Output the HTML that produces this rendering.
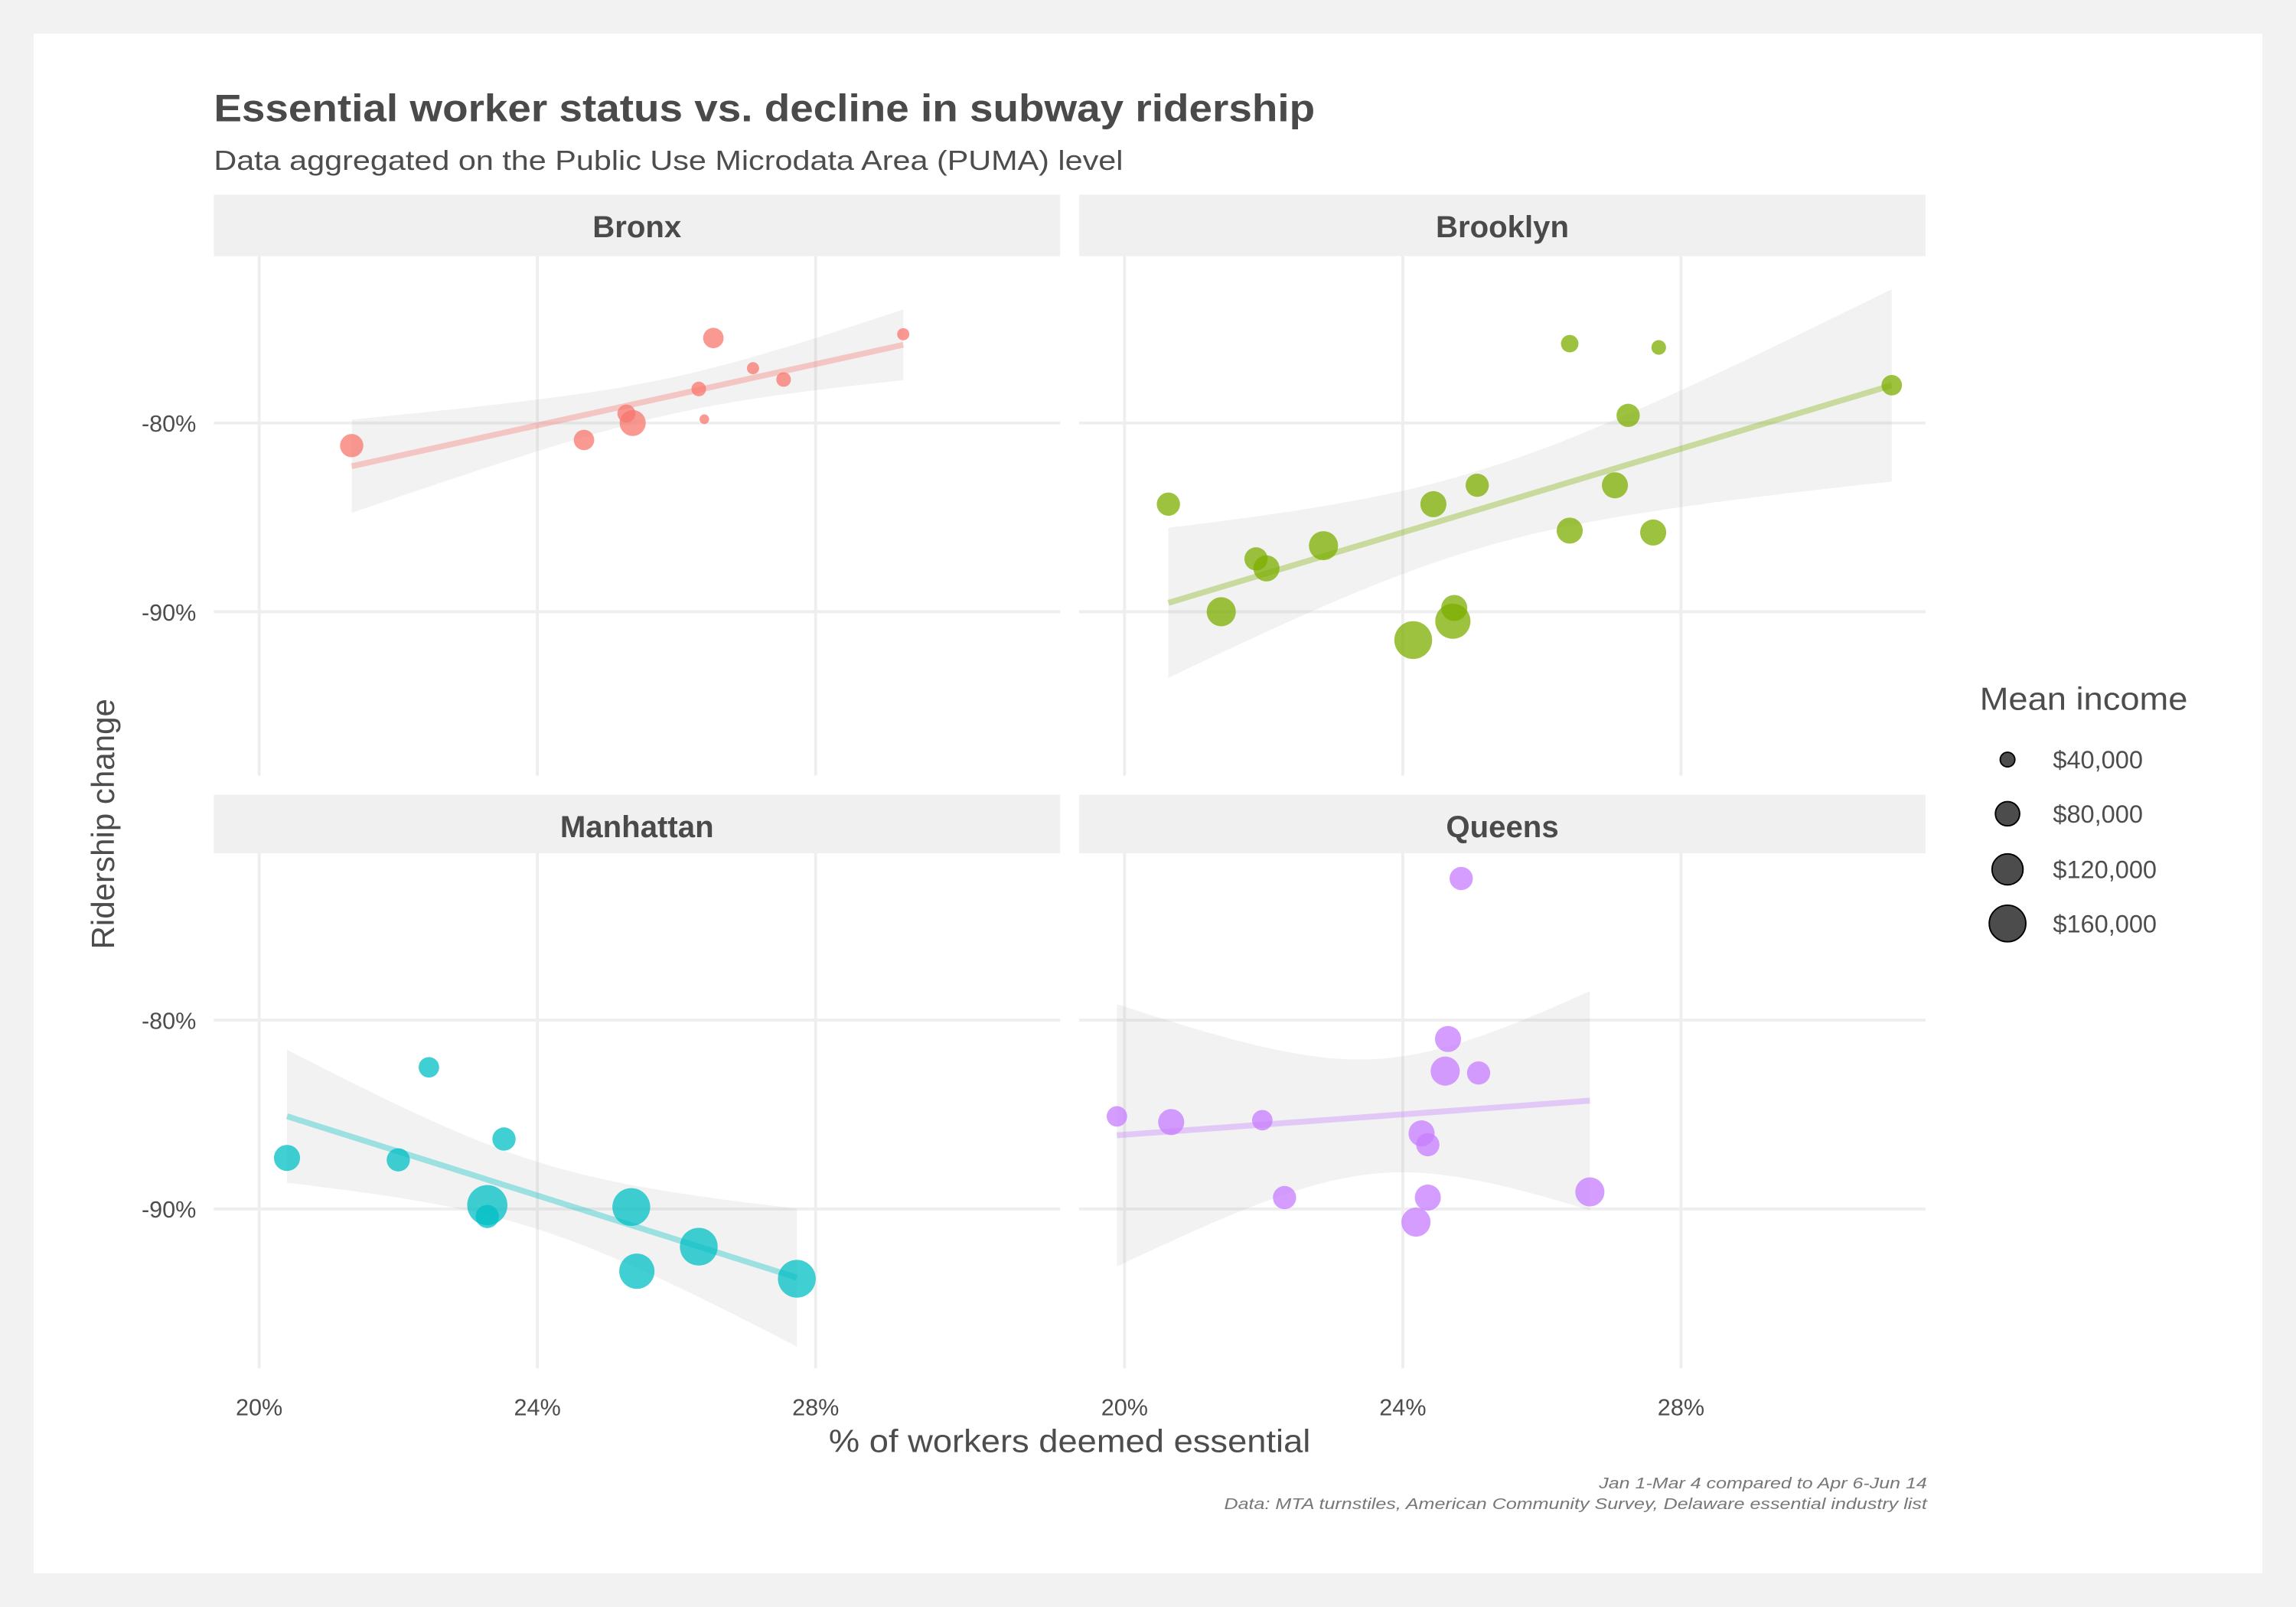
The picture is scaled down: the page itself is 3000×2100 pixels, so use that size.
<!DOCTYPE html>
<html><head><meta charset="utf-8"><style>
html,body{margin:0;padding:0;background:#f2f2f2;}
svg{display:block;font-family:"Liberation Sans",Arial,sans-serif;}
</style></head><body>
<svg id="chart" width="3000" height="2100" viewBox="0 0 1568 1098" preserveAspectRatio="none" xmlns="http://www.w3.org/2000/svg">
<rect x="0" y="0" width="1568" height="1098" fill="#f2f2f2"/>
<rect x="23" y="23" width="1522" height="1052" fill="#ffffff"/>
<text x="146" y="83" font-size="26" font-weight="bold" fill="#4a4a4a" textLength="752" lengthAdjust="spacingAndGlyphs">Essential worker status vs. decline in subway ridership</text>
<text x="146" y="116" font-size="19" fill="#4d4d4d" textLength="621" lengthAdjust="spacingAndGlyphs">Data aggregated on the Public Use Microdata Area (PUMA) level</text>
<g id="panels"></g>
<text x="566" y="992" font-size="22" fill="#4d4d4d" textLength="329" lengthAdjust="spacingAndGlyphs">% of workers deemed essential</text>
<text transform="translate(78,563) rotate(-90)" font-size="22" fill="#4d4d4d" text-anchor="middle">Ridership change</text>
<text x="1352" y="485" font-size="22" fill="#4d4d4d" textLength="142" lengthAdjust="spacingAndGlyphs">Mean income</text>
<g id="legend"></g>
<text x="1092" y="1017" font-size="10.5" font-style="italic" fill="#777" textLength="224" lengthAdjust="spacingAndGlyphs">Jan 1-Mar 4 compared to Apr 6-Jun 14</text>
<text x="836" y="1031" font-size="10.5" font-style="italic" fill="#777" textLength="480" lengthAdjust="spacingAndGlyphs">Data: MTA turnstiles, American Community Survey, Delaware essential industry list</text>
</svg>
<script>
const boroughs = ["Bronx","Brooklyn","Manhattan","Queens"];
const colors = ["#F8766D","#7CAE00","#00BFC4","#C77CFF"];
const xTicks = [20,24,28];
const xTickLabels = ["20%","24%","28%"];
const yTicks = [-80,-90];
const yTickLabels = ["-80%","-90%"];
const legendIncomes = [40,80,120,160];
const legendLabels = ["$40,000","$80,000","$120,000","$160,000"];

const bronxX = [21.33,24.67,25.28,25.37,26.32,26.40,26.53,27.10,27.54,29.26];
const bronxY = [-81.2,-80.9,-79.5,-80.0,-78.2,-79.8,-75.5,-77.1,-77.7,-75.3];
const bronxInc = [75,62,52,90,40,27,62,33,40,33];

const brooklynX = [20.63,21.89,22.04,21.39,22.86,24.15,24.44,24.74,24.72,25.07,26.40,26.40,27.05,27.24,27.60,27.68,31.03];
const brooklynY = [-84.3,-87.2,-87.7,-90.0,-86.5,-91.5,-84.3,-89.8,-90.5,-83.3,-75.8,-85.7,-83.3,-79.6,-85.8,-76.0,-78.0];
const brooklynInc = [75,75,90,108,108,170,90,90,150,75,50,90,90,75,90,40,62];

const manhattanX = [20.40,22.00,22.44,23.52,23.28,23.28,25.35,25.43,26.32,27.73];
const manhattanY = [-87.3,-87.4,-82.5,-86.3,-89.8,-90.4,-89.9,-93.3,-92.0,-93.7];
const manhattanInc = [90,75,62,75,190,75,170,150,170,170];

const queensX = [19.89,20.67,21.98,22.30,24.27,24.36,24.61,24.65,25.09,24.36,24.19,24.84,26.69];
const queensY = [-85.1,-85.4,-85.3,-89.4,-86.0,-86.6,-82.7,-81.0,-82.8,-89.4,-90.7,-72.5,-89.1];
const queensInc = [62,90,62,75,90,75,108,90,75,90,108,75,108];

const seriesX = [bronxX,brooklynX,manhattanX,queensX];
const seriesY = [bronxY,brooklynY,manhattanY,queensY];
const seriesInc = [bronxInc,brooklynInc,manhattanInc,queensInc];

const NS="http://www.w3.org/2000/svg";
function mk(tag,attrs,parent){const e=document.createElementNS(NS,tag);for(const k in attrs)e.setAttribute(k,attrs[k]);parent.appendChild(e);return e;}
function rad(inc){return Math.sqrt(Math.max(2,-18.7+1.09*inc));}
function tq(df){const t={8:2.306,9:2.262,10:2.228,11:2.201,12:2.179,13:2.16,14:2.145,15:2.131,16:2.12,17:2.11,18:2.101};return t[df]||2.1;}

const layout=[{x0:146,x20:177,top:175,strip:133,y80:289},{x0:737,x20:768,top:175,strip:133,y80:289},
{x0:146,x20:177,top:583,strip:543,y80:697},{x0:737,x20:768,top:583,strip:543,y80:697}];
const PW=578, PBOT=[530,530,935,935];
const panels=document.getElementById('panels');

boroughs.forEach((b,i)=>{
  const L=layout[i];
  const xs=v=>L.x20+(v-20)*47.5;
  const ys=v=>L.y80+(-80-v)*12.9;
  const g=mk('g',{},panels);
  
  
  const st=mk('rect',{x:L.x0,y:L.strip,width:PW,height:L.top-L.strip,fill:'#f0f0f0'},g);
  
  
  const stt=mk('text',{x:L.x0+PW/2,y:L.strip+29,'font-size':21,'font-weight':'bold',fill:'#4a4a4a','text-anchor':'middle'},g);
  stt.textContent=b;
  
  
  const bot=PBOT[i];
  xTicks.forEach((t,j)=>{
    const gl=mk('line',{x1:xs(t),x2:xs(t),y1:L.top,y2:bot,stroke:'#eeeeee','stroke-width':2},g);
    
    
    if(i>=2){const tl=mk('text',{x:xs(t),y:967,'font-size':16,fill:'#4d4d4d','text-anchor':'middle'},g);tl.textContent=xTickLabels[j];
      
      }
  });
  yTicks.forEach((t,j)=>{
    const gl=mk('line',{x1:L.x0,x2:L.x0+PW,y1:ys(t),y2:ys(t),stroke:'#eeeeee','stroke-width':2},g);
    
    
    if(i%2===0){const tl=mk('text',{x:134,y:ys(t)+6,'font-size':16,fill:'#4d4d4d','text-anchor':'end'},g);tl.textContent=yTickLabels[j];
      
      }
  });
  const X=seriesX[i],Y=seriesY[i],n=X.length;
  const mx=X.reduce((a,c)=>a+c,0)/n,my=Y.reduce((a,c)=>a+c,0)/n;
  let sxx=0,sxy=0;X.forEach((x,k)=>{sxx+=(x-mx)**2;sxy+=(x-mx)*(Y[k]-my);});
  const bb=sxy/sxx,aa=my-bb*mx;
  let sse=0;X.forEach((x,k)=>{sse+=(Y[k]-aa-bb*x)**2;});
  const s=Math.sqrt(sse/(n-2)),tv=tq(n-2);
  const xmin=Math.min(...X),xmax=Math.max(...X);
  const up=[],lo=[];
  for(let k=0;k<=60;k++){const x=xmin+(xmax-xmin)*k/60;const f=aa+bb*x;const se=s*Math.sqrt(1/n+(x-mx)**2/sxx);
    up.push(xs(x).toFixed(1)+','+ys(f+tv*se).toFixed(1));lo.unshift(xs(x).toFixed(1)+','+ys(f-tv*se).toFixed(1));}
  const rib=mk('polygon',{points:up.concat(lo).join(' '),fill:'#999','fill-opacity':0.13},g);
  
  
  const ln=mk('line',{x1:xs(xmin),y1:ys(aa+bb*xmin),x2:xs(xmax),y2:ys(aa+bb*xmax),stroke:colors[i],'stroke-opacity':0.35,'stroke-width':4},g);
  
  
  X.forEach((x,k)=>{
    const c=mk('circle',{cx:xs(x),cy:ys(Y[k]),r:rad(seriesInc[i][k]),fill:colors[i],'fill-opacity':0.75},g);
    
    
  });
});

const leg=document.getElementById('legend');
const ly=[519,556,594,631];
legendIncomes.forEach((inc,j)=>{
  const c=mk('circle',{cx:1371,cy:ly[j],r:rad(inc),fill:'#000','fill-opacity':0.7,stroke:'#000','stroke-width':1},leg);
  
  
  const t=mk('text',{x:1402,y:ly[j]+6,'font-size':17,fill:'#4d4d4d'},leg);t.textContent=legendLabels[j];
  
  
});
</script>
</body></html>
